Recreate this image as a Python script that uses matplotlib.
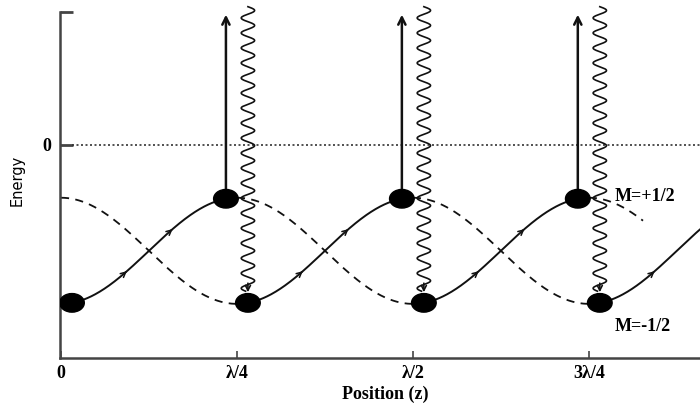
import numpy as np
import matplotlib.pyplot as plt
from matplotlib.patches import Ellipse

# positions in units of the wavelength, energies in units of the light shift
tick_pos = [0, 0.25, 0.5, 0.75]
tick_labels = ['0', 'λ/4', 'λ/2', '3λ/4']
jump_z = [0.25, 0.5, 0.75]      # where the atom is optically pumped
shift = 1 / 64                  # dots sit a little either side of the jump
u_top, u_bottom = -1.0, -3.0    # potential hill and valley
z_end = 0.908
arrow_steps = [0.077, 0.142]    # small direction arrows along each climb


def u_plus(z):
    mid = (u_top + u_bottom) / 2
    amp = (u_top - u_bottom) / 2
    return mid - amp * np.cos(4 * np.pi * np.asarray(z))


def u_minus(z):
    mid = (u_top + u_bottom) / 2
    amp = (u_top - u_bottom) / 2
    return mid + amp * np.cos(4 * np.pi * np.asarray(z))


fig = plt.figure(figsize=(7, 4.04), dpi=100)
ax = fig.add_axes([60 / 700, 46 / 404, 640 / 700, 346 / 404])
ax.set_xlim(-0.0014, z_end)
ax.set_ylim(-4.02, 2.5)

ink = '#111111'
serif = dict(family='Liberation Serif', fontweight='bold', fontsize=13)

# zero energy level
ax.axhline(0, xmin=12 / 640, color='#333333', lw=1.2, ls=(0, (1.2, 1.5)))

# climbing path (solid) and the parts of the potentials not travelled (dashed)
starts = [0] + jump_z
curves = [u_plus, u_minus, u_plus, u_minus]
for i, z0 in enumerate(starts):
    f = curves[i]
    z1 = min(z0 + 0.25 - shift, z_end)
    zz = np.linspace(z0 + shift, z1, 200)
    ax.plot(zz, f(zz), color=ink, lw=1.4, clip_on=False)
    for s in arrow_steps:
        za = z0 + shift + s
        if za + 0.004 < z_end:
            ax.annotate('', xy=(za + 0.004, f(za + 0.004)), xytext=(za - 0.004, f(za - 0.004)),
                        arrowprops=dict(arrowstyle='->', color=ink, lw=1.1, mutation_scale=9))
    # dot at the bottom of the climb
    ax.add_patch(Ellipse((z0 + shift, f(z0 + shift)), 0.035, 0.35, color='black', zorder=5))

# dashed branches
other = [u_minus, u_plus, u_minus, u_plus]
dash_end = [0.25, 0.5, 0.75, 0.827]
for i, z0 in enumerate(starts):
    zz = np.linspace(z0, dash_end[i], 200)
    ax.plot(zz, other[i](zz), color=ink, lw=1.3, ls=(0, (4.5, 3.5)))

# pumping: absorption straight up, spontaneous emission wavy down
for k, zj in enumerate(jump_z):
    up_f = curves[k]
    z_top = zj - shift
    ax.add_patch(Ellipse((z_top, up_f(z_top)), 0.035, 0.35, color='black', zorder=5))
    ax.annotate('', xy=(z_top, 2.45), xytext=(z_top, up_f(z_top)),
                arrowprops=dict(arrowstyle='->', color=ink, lw=1.8, mutation_scale=13,
                                shrinkA=0, shrinkB=0), annotation_clip=False)
    z_low = zj + shift
    y_hi, y_lo = 2.6, curves[k + 1](z_low) + 0.22
    yy = np.linspace(y_hi, y_lo, 600)
    wx = z_low + 0.0095 * np.sin(2 * np.pi * (y_hi - yy) / 0.283)
    ax.plot(wx, yy, color=ink, lw=1.2, clip_on=False)
    ax.annotate('', xy=(z_low, y_lo - 0.02), xytext=(z_low, y_lo + 0.15),
                arrowprops=dict(arrowstyle='->', color=ink, lw=1.2, mutation_scale=9,
                                shrinkA=0, shrinkB=0))

ax.text(0.786, -0.98, 'M=+1/2', ha='left', va='center', **serif)
ax.text(0.786, -3.42, 'M=-1/2', ha='left', va='center', **serif)

# axes frame
for side in ['top', 'right']:
    ax.spines[side].set_visible(False)
for side in ['left', 'bottom']:
    ax.spines[side].set_color('#444444')
    ax.spines[side].set_linewidth(1.8)

ax.set_xticks(tick_pos)
ax.set_xticklabels(tick_labels, **serif)
ax.tick_params(axis='x', direction='in', length=5, width=1.2, color='#444444', pad=5)
ax.set_yticks([0, 2.5])
ax.set_yticklabels(['0', ''], **serif)
ax.tick_params(axis='y', direction='in', length=9, width=2, color='#444444', pad=6)

fig.text(385 / 700, 1 - 394 / 404, 'Position (z)', ha='center', va='center', **serif)
fig.text(17 / 700, 1 - 180 / 404, 'Energy', rotation=90, ha='center', va='center',
         family=['Liberation Sans Narrow', 'DejaVu Sans'], fontsize=10.5)

fig.savefig('out.png', dpi=100)
